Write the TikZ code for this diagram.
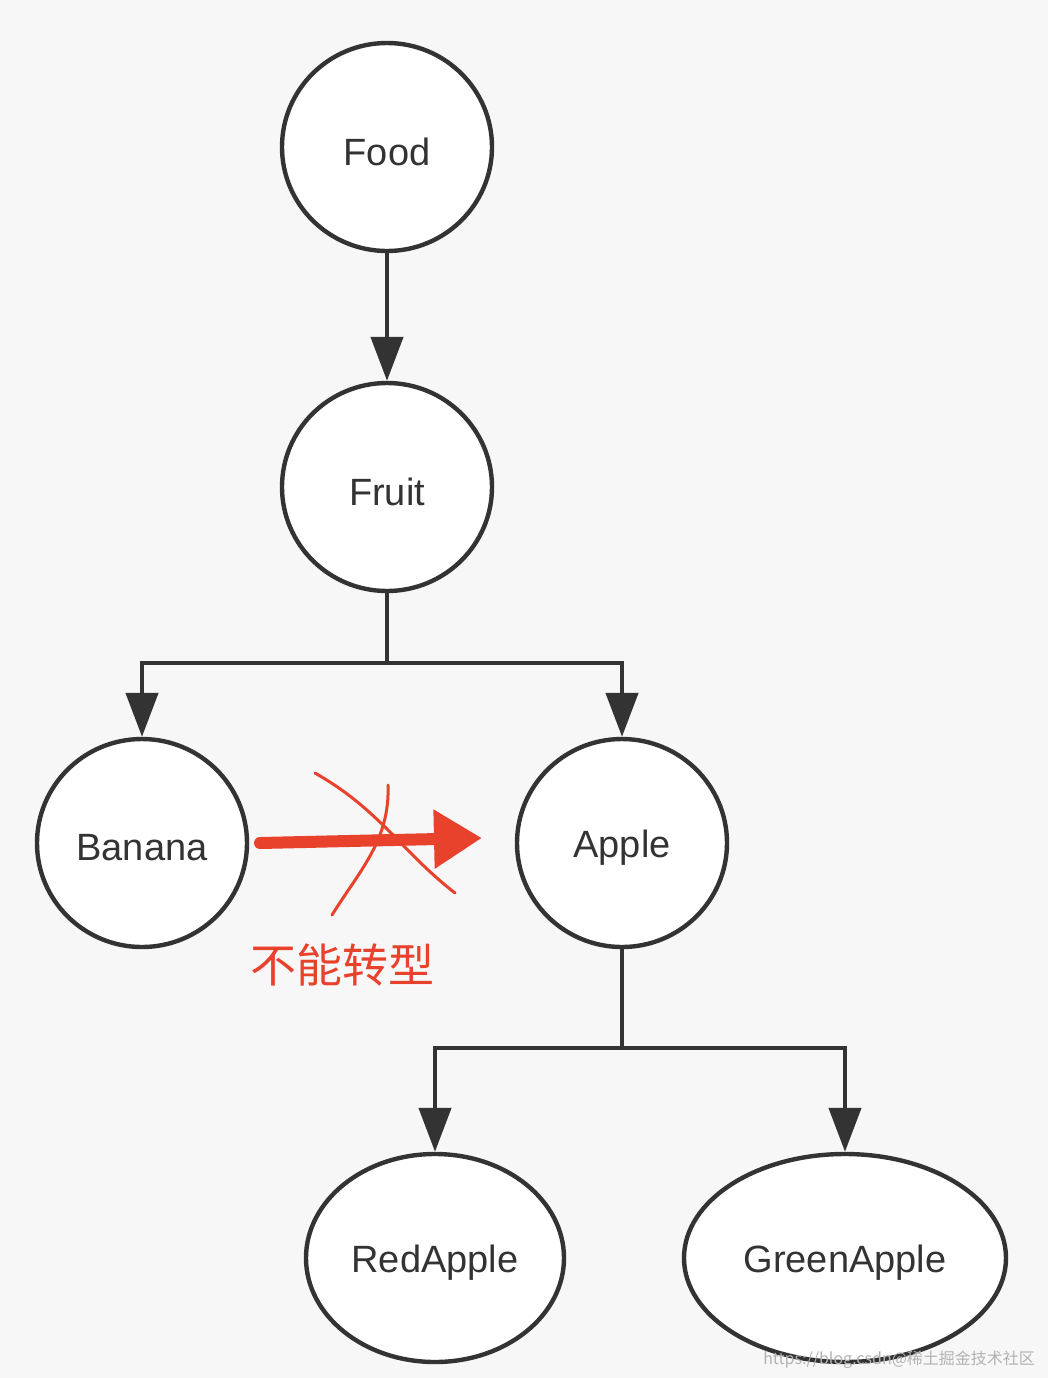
\documentclass[tikz,border=0pt]{standalone}
\usepackage{fontspec}
\setmainfont{Liberation Sans}
\newfontfamily\cjk{Noto Sans CJK SC}
\usetikzlibrary{arrows.meta,shapes.geometric}
\definecolor{bg}{HTML}{F7F7F7}
\definecolor{ln}{HTML}{333333}
\definecolor{rd}{HTML}{E8412C}
\tikzset{
 nd/.style={draw=ln,line width=2.2pt,fill=white,ellipse,font=\fontsize{19}{22}\selectfont,text=ln},
 tx/.style={font=\fontsize{19}{22}\selectfont,text=ln,yshift=-2.5pt},
 ar/.style={draw=ln,line width=2.2pt,-{Triangle[length=22pt,width=16pt]}},
 ln0/.style={draw=ln,line width=2.2pt}
}
\begin{document}
\begin{tikzpicture}[x=0.5pt,y=-0.5pt]
\fill[bg] (0,0) rectangle (1048,1378);
\useasboundingbox (0,0) rectangle (1048,1378);
\node[nd,minimum width=105pt,minimum height=104pt] (food) at (387,147) {};
\node[nd,minimum width=105pt,minimum height=104pt] (fruit) at (387,487) {};
\node[nd,minimum width=105pt,minimum height=104pt] (banana) at (142,843) {};
\node[nd,minimum width=105pt,minimum height=104pt] (apple) at (622,843) {};
\node[nd,minimum width=129pt,minimum height=104pt] (red) at (435,1258) {};
\node[nd,minimum width=161pt,minimum height=104pt] (green) at (845,1258) {};
\node[tx] (tfood) at (food) {Food};
\node[tx] (tfruit) at (fruit) {Fruit};
\node[tx] (tbanana) at (banana) {Banana};
\node[tx] (tapple) at (apple) {Apple};
\node[tx] (tred) at (red) {RedApple};
\node[tx] (tgreen) at (green) {GreenApple};
\draw[ar] (food) -- (fruit);
\coordinate (j1) at (387,663);
\coordinate (j2) at (622,1048);
\draw[ln0] (fruit) -- (j1);
\draw[ar] (j1) -| (banana);
\draw[ar] (j1) -| (apple);
\draw[ln0] (apple) -- (j2);
\draw[ar] (j2) -| (red);
\draw[ar] (j2) -| (green);
\coordinate (ra) at (260,843);
\coordinate (rb) at (482,838);
\draw[rd,line width=6pt,line cap=round,-{Triangle[length=24pt,width=28pt]}] (ra) -- (rb);
\coordinate (c1) at (315,773);\coordinate (c2) at (455,893);
\draw[rd,line width=1.5pt,line cap=round] (c1) .. controls (380,810) and (400,850) .. (c2);
\coordinate (c3) at (388,785);\coordinate (c4) at (332,915);
\draw[rd,line width=1.5pt,line cap=round] (c3) .. controls (390,840) and (360,870) .. (c4);
\node[text=rd,font=\cjk\fontsize{23}{26}\selectfont] (lbl) at (342,965) {不能转型};
\node[text=gray!60,font=\cjk\fontsize{8}{10}\selectfont,anchor=east] (wm) at (1042,1360) {https://blog.csdn@稀土掘金技术社区};
\end{tikzpicture}
\end{document}
